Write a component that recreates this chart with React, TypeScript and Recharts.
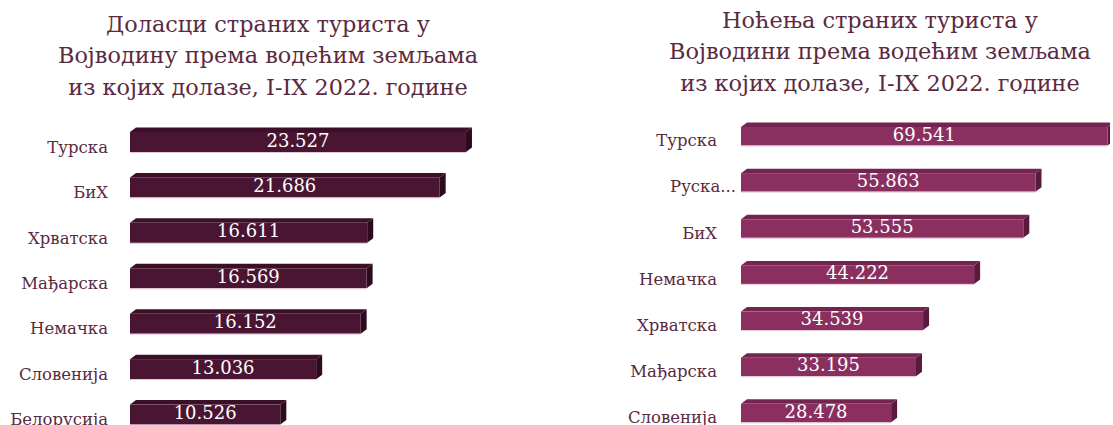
import { Bar, BarChart, LabelList, XAxis, YAxis } from "recharts";

const arrivalCountries = ["Турска", "БиХ", "Хрватска", "Мађарска", "Немачка", "Словенија", "Белорусија"];
const arrivalValues = [23527, 21686, 16611, 16569, 16152, 13036, 10526];

const nightCountries = ["Турска", "Руска Федерација", "БиХ", "Немачка", "Хрватска", "Мађарска", "Словенија"];
const nightValues = [69541, 55863, 53555, 44222, 34539, 33195, 28478];

const arrivalTitle = ["Доласци страних туриста у", "Војводину према водећим земљама", "из којих долазе, I-IX 2022. године"];
const nightTitle = ["Ноћења страних туриста у", "Војводини према водећим земљама", "из којих долазе, I-IX 2022. године"];

const FONT = "'DejaVu Serif', serif";
const TEXT = "#5a2a40";

const fmt = (v: number) => String(v).replace(/\B(?=(\d{3})+(?!\d))/g, ".");

function shade(front: string, top: string, side: string) {
  return (props: any) => {
    const { x, y, width, height } = props;
    const dx = 6;
    const dy = 4.5;
    return (
      <g>
        <polygon
          points={`${x},${y} ${x + dx},${y - dy} ${x + width + dx},${y - dy} ${x + width},${y}`}
          fill={top}
        />
        <polygon
          points={`${x + width},${y} ${x + width + dx},${y - dy} ${x + width + dx},${y + height - dy} ${x + width},${y + height}`}
          fill={side}
        />
        <rect x={x} y={y} width={width} height={height} fill={front} />
        <line x1={x} y1={y + height + 0.5} x2={x + width} y2={y + height + 0.5} stroke="#e2c9d5" strokeWidth={1} />
      </g>
    );
  };
}

function CountryTick({ x, y, payload, gap, barSize }: any) {
  let label: string = payload.value;
  let tx = x - gap;
  if (label.length > 12) {
    label = label.split(" ")[0] + "...";
    tx = x - 5;
  }
  return (
    <text x={tx} y={y + barSize / 2 + 1} textAnchor="end" fill={TEXT} fontFamily={FONT} fontSize={16.5}>
      {label}
    </text>
  );
}

function ValueLabel(props: any) {
  const { x, y, width, height, value } = props;
  return (
    <text
      x={x + width / 2}
      y={y + height / 2 + 4.5}
      textAnchor="middle"
      fill="#ffffff"
      fontFamily={FONT}
      fontSize={18}
    >
      {fmt(value)}
    </text>
  );
}

function Panel({
  countries,
  values,
  width,
  height,
  top,
  axisWidth,
  max,
  barSize,
  gap,
  colors,
}: {
  countries: string[];
  values: number[];
  width: number;
  height: number;
  top: number;
  axisWidth: number;
  max: number;
  barSize: number;
  gap: number;
  colors: [string, string, string];
}) {
  const data = countries.map((c, i) => ({ country: c, value: values[i] }));
  return (
    <BarChart
      layout="vertical"
      width={width}
      height={height}
      data={data}
      margin={{ top, right: 0, bottom: 0, left: 0 }}
    >
      <XAxis type="number" domain={[0, max]} hide />
      <YAxis
        type="category"
        dataKey="country"
        width={axisWidth}
        axisLine={false}
        tickLine={false}
        tickSize={0}
        tickMargin={0}
        interval={0}
        tick={<CountryTick gap={gap} barSize={barSize} />}
      />
      <Bar dataKey="value" barSize={barSize} shape={shade(...colors)} isAnimationActive={false}>
        <LabelList dataKey="value" content={<ValueLabel />} />
      </Bar>
    </BarChart>
  );
}

function Title({ lines, cx, y0 }: { lines: string[]; cx: number; y0: number }) {
  return (
    <>
      {lines.map((l, i) => (
        <text key={i} x={cx} y={y0 + i * 31.3} textAnchor="middle" fill={TEXT} fontFamily={FONT} fontSize={22.4}>
          {l}
        </text>
      ))}
    </>
  );
}

export default function App() {
  return (
    <div style={{ position: "relative", width: 1113, height: 425, overflow: "hidden", background: "#fff" }}>
      <style>{"body{margin:0;overflow:hidden}"}</style>
      <div style={{ position: "absolute", left: 0, top: 0 }}>
        <Panel
          countries={arrivalCountries}
          values={arrivalValues}
          width={487}
          height={437}
          top={119}
          axisWidth={130}
          max={25000}
          barSize={20}
          gap={22}
          colors={["#4a1533", "#3b0f28", "#2d0a1e"]}
        />
      </div>
      <div style={{ position: "absolute", left: 560, top: 0 }}>
        <Panel
          countries={nightCountries}
          values={nightValues}
          width={550}
          height={436}
          top={113}
          axisWidth={181}
          max={70000}
          barSize={18.5}
          gap={24}
          colors={["#8b2f61", "#74254f", "#5a1a3e"]}
        />
      </div>
      <svg width={1113} height={110} style={{ position: "absolute", left: 0, top: 0 }}>
        <Title lines={arrivalTitle} cx={268} y0={32} />
        <Title lines={nightTitle} cx={880} y0={28} />
      </svg>
    </div>
  );
}
